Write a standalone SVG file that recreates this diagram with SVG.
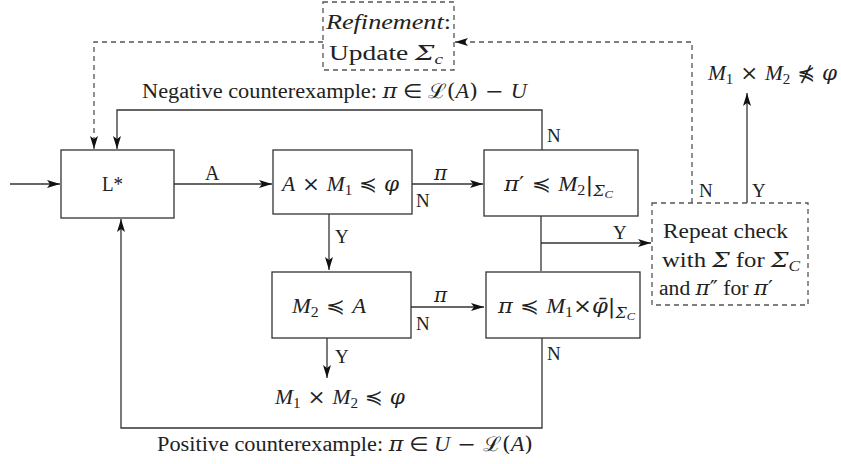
<svg xmlns="http://www.w3.org/2000/svg" width="841" height="464" viewBox="0 0 841 464">
<style>
.box{fill:#fff;stroke:#333;stroke-width:1.3}
.dbox{fill:#fff;stroke:#555;stroke-width:1.3;stroke-dasharray:5,4}
.ln{fill:none;stroke:#333;stroke-width:1.3}
.dl{fill:none;stroke:#555;stroke-width:1.3;stroke-dasharray:5,4}
text{font-family:"Liberation Serif","DejaVu Serif",serif;font-size:20px;fill:#222}
.m{font-family:"DejaVu Serif","Liberation Serif",serif}
.r{font-family:"DejaVu Sans","DejaVu Serif",sans-serif}
.i{font-style:italic}
.s{font-size:14px}
.lb{font-size:19px}
</style>
<defs>
<marker id="ah" markerWidth="14" markerHeight="8" refX="13" refY="4" orient="auto" markerUnits="userSpaceOnUse">
<path d="M0,0 L13,4 L0,8 L3,4 Z" fill="#111"/>
</marker>
</defs>
<rect width="841" height="464" fill="#fff"/>
<g id="connectors">
<path class="ln" d="M10,184 L60,184" marker-end="url(#ah)"/>
<path class="ln" d="M174,184 L272,184" marker-end="url(#ah)"/>
<path class="ln" d="M412,184 L483,184" marker-end="url(#ah)"/>
<path class="ln" d="M329,214 L329,270" marker-end="url(#ah)"/>
<path class="ln" d="M411,307 L484,307" marker-end="url(#ah)"/>
<path class="ln" d="M327,338 L327,378" marker-end="url(#ah)"/>
<path class="ln" d="M541,216 L541,271"/>
<path class="ln" d="M541,243 L651,243" marker-end="url(#ah)"/>
<path class="ln" d="M542,150 L542,110 L117,110 L117,149" marker-end="url(#ah)"/>
<path class="ln" d="M542,338 L542,428 L121,428 L121,219" marker-end="url(#ah)"/>
<path class="ln" d="M747,203 L747,93" marker-end="url(#ah)"/>
<path class="dl" d="M323,42 L94,42 L94,149" marker-end="url(#ah)"/>
<path class="dl" d="M692,203 L692,42 L455,42" marker-end="url(#ah)"/>
<text x="205" y="180" font-size="18">A</text>
<text x="434" y="180" class="m i" font-size="15">π</text>
<text x="416" y="207" class="lb">N</text>
<text x="335" y="243" class="lb">Y</text>
<text x="434" y="302" class="m i" font-size="15">π</text>
<text x="416" y="330" class="lb">N</text>
<text x="335" y="363" class="lb">Y</text>
<text x="547" y="142" class="lb">N</text>
<text x="547" y="360" class="lb">N</text>
<text x="613" y="239" class="lb">Y</text>
<text x="699" y="197" class="lb">N</text>
<text x="752" y="197" class="lb">Y</text>
<text x="142" y="98" textLength="385" lengthAdjust="spacingAndGlyphs">Negative counterexample: <tspan class="m i">π</tspan> <tspan class="r">∈</tspan> <tspan class="m">ℒ(</tspan><tspan class="i">A</tspan><tspan class="m">) − </tspan><tspan class="i">U</tspan></text>
<text x="157" y="451" textLength="376" lengthAdjust="spacingAndGlyphs">Positive counterexample: <tspan class="m i">π</tspan> <tspan class="r">∈</tspan> <tspan class="i">U</tspan><tspan class="m"> − ℒ(</tspan><tspan class="i">A</tspan><tspan class="m">)</tspan></text>
<text x="275" y="404" font-size="21" textLength="130" lengthAdjust="spacingAndGlyphs"><tspan class="i">M</tspan><tspan class="s" dy="4">1</tspan><tspan class="m" dy="-4"> × </tspan><tspan class="i">M</tspan><tspan class="s" dy="4">2</tspan><tspan class="r" dy="-4"> ≼ </tspan><tspan class="m i">φ</tspan></text>
<text x="708" y="80" font-size="21" textLength="129" lengthAdjust="spacingAndGlyphs"><tspan class="i">M</tspan><tspan class="s" dy="4">1</tspan><tspan class="m" dy="-4"> × </tspan><tspan class="i">M</tspan><tspan class="s" dy="4">2</tspan><tspan class="r" dy="-4"> ⋠ </tspan><tspan class="m i">φ</tspan></text>
</g>
<g id="lstar">
<rect class="box" x="61" y="150" width="113" height="68"/>
<text x="102" y="191" font-size="18" textLength="21" lengthAdjust="spacingAndGlyphs">L*</text>
</g>
<g id="check1">
<rect class="box" x="273" y="150" width="139" height="64"/>
<text x="282" y="191" font-size="21" textLength="117" lengthAdjust="spacingAndGlyphs"><tspan class="i">A</tspan><tspan class="m"> × </tspan><tspan class="i">M</tspan><tspan class="s" dy="4">1</tspan><tspan class="r" dy="-4"> ≼ </tspan><tspan class="m i">φ</tspan></text>
</g>
<g id="check2">
<rect class="box" x="484" y="150" width="154" height="66"/>
<text x="504" y="191" font-size="21" textLength="109" lengthAdjust="spacingAndGlyphs"><tspan class="m i">π</tspan><tspan class="m">′ </tspan><tspan class="r">≼</tspan><tspan class="m"> </tspan><tspan class="i">M</tspan><tspan class="s" dy="4">2</tspan><tspan class="m" dy="-4">|</tspan><tspan class="m i" font-size="14" dy="5">Σ</tspan><tspan class="i" font-size="11" dy="2">C</tspan></text>
</g>
<g id="check3">
<rect class="box" x="272" y="272" width="139" height="66"/>
<text x="292" y="313" font-size="21" textLength="74" lengthAdjust="spacingAndGlyphs"><tspan class="i">M</tspan><tspan class="s" dy="4">2</tspan><tspan class="r" dy="-4"> ≼ </tspan><tspan class="i">A</tspan></text>
</g>
<g id="check4">
<rect class="box" x="486" y="272" width="154" height="66"/>
<text x="498" y="313" font-size="21" textLength="137" lengthAdjust="spacingAndGlyphs"><tspan class="m i">π</tspan><tspan class="m"> </tspan><tspan class="r">≼</tspan><tspan class="m"> </tspan><tspan class="i">M</tspan><tspan class="s" dy="4">1</tspan><tspan class="m" dy="-4">×</tspan><tspan class="m i">φ̄</tspan><tspan class="m">|</tspan><tspan class="m i" font-size="14" dy="5">Σ</tspan><tspan class="i" font-size="11" dy="2">C</tspan></text>
</g>
<g id="refinement">
<rect class="dbox" x="323" y="2" width="131" height="68"/>
<text x="326" y="29" class="i" textLength="125" lengthAdjust="spacingAndGlyphs">Refinement<tspan font-style="normal">:</tspan></text>
<text x="329" y="60" textLength="114" lengthAdjust="spacingAndGlyphs">Update <tspan class="m i">Σ</tspan><tspan class="i" font-size="14" dy="4">c</tspan></text>
</g>
<g id="repeat">
<rect class="dbox" x="652" y="203" width="156" height="102"/>
<text x="663" y="238" textLength="125" lengthAdjust="spacingAndGlyphs">Repeat check</text>
<text x="662" y="267" textLength="138" lengthAdjust="spacingAndGlyphs">with <tspan class="m i">Σ</tspan> for <tspan class="m i">Σ</tspan><tspan class="i" font-size="14" dy="4">C</tspan></text>
<text x="659" y="295" textLength="114" lengthAdjust="spacingAndGlyphs">and <tspan class="m i">π</tspan><tspan class="m">″</tspan> for <tspan class="m i">π</tspan><tspan class="m">′</tspan></text>
</g>
</svg>
